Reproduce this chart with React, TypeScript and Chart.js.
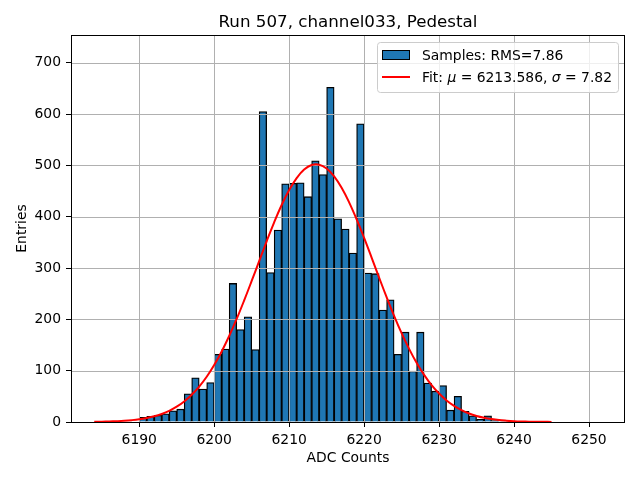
import { useEffect, useRef } from "react";
import { Chart, registerables } from "chart.js";

Chart.register(...registerables);

const FONT = "'DejaVu Sans', sans-serif";

const chartTitle = "Run 507, channel033, Pedestal";
const xLabel = "ADC Counts";
const yLabel = "Entries";

// histogram bins (left edge, width 1 ADC count)
const binStarts = [
  6190, 6191, 6192, 6193, 6194, 6195, 6196, 6197, 6198, 6199,
  6200, 6201, 6202, 6203, 6204, 6205, 6206, 6207, 6208, 6209,
  6210, 6211, 6212, 6213, 6214, 6215, 6216, 6217, 6218, 6219,
  6220, 6221, 6222, 6223, 6224, 6225, 6226, 6227, 6228, 6229,
  6230, 6231, 6232, 6233, 6234, 6235, 6236, 6237, 6238, 6239,
];
const counts = [
  9, 11, 13, 16, 22, 25, 55, 86, 64, 77,
  132, 142, 270, 180, 205, 141, 605, 291, 374, 464,
  465, 466, 439, 509, 482, 652, 396, 376, 329, 581,
  290, 289, 218, 238, 132, 175, 99, 175, 76, 60,
  71, 23, 50, 21, 12, 5, 12, 3, 1, 1,
];

// fit curve
const fitX = [
  6184, 6185, 6186, 6187, 6188, 6189, 6190, 6191, 6192, 6193,
  6194, 6195, 6196, 6197, 6198, 6199, 6200, 6201, 6202, 6203,
  6204, 6205, 6206, 6207, 6208, 6209, 6210, 6211, 6212, 6213,
  6214, 6215, 6216, 6217, 6218, 6219, 6220, 6221, 6222, 6223,
  6224, 6225, 6226, 6227, 6228, 6229, 6230, 6231, 6232, 6233,
  6234, 6235, 6236, 6237, 6238, 6239, 6240, 6241, 6242, 6243,
  6244, 6245,
];
const fitY = [
  0.4, 0.6, 1.0, 1.6, 2.4, 3.6, 5.3, 7.8, 11.1, 15.7,
  21.8, 29.8, 40.0, 53.0, 68.9, 88.1, 111, 137.5, 167.5, 200.8,
  236.9, 274.8, 313.5, 352.1, 389, 422.7, 451.9, 475.3, 491.8, 500.6,
  501.3, 493.9, 478.6, 456.4, 428, 395, 358.6, 320.3, 281.4, 243.2,
  206.8, 173, 142.4, 115.3, 91.8, 71.9, 55.5, 42.0, 31.4, 23.0,
  16.6, 11.8, 8.3, 5.7, 3.8, 2.6, 1.7, 1.1, 0.7, 0.4,
  0.3, 0.2,
];

const xTicks = [6190, 6200, 6210, 6220, 6230, 6240, 6250];
const yTicks = [0, 100, 200, 300, 400, 500, 600, 700];

const sampleLabel = "Samples: RMS=7.86";
const fitLabelParts: [string, boolean][] = [
  ["Fit: ", false],
  ["\u03bc", true],
  [" = 6213.586, ", false],
  ["\u03c3", true],
  [" = 7.82", false],
];

const decor = {
  id: "decor",
  afterDatasetDraw(chart: any, args: any) {
    if (args.index !== 0) return;
    const { ctx, chartArea: a, scales } = chart;
    ctx.save();
    ctx.strokeStyle = "#b0b0b0";
    ctx.lineWidth = 1;
    ctx.beginPath();
    xTicks.forEach((v) => {
      const px = Math.round(scales.x.getPixelForValue(v)) + 0.5;
      ctx.moveTo(px, a.top);
      ctx.lineTo(px, a.bottom);
    });
    yTicks.forEach((v) => {
      const py = Math.round(scales.y.getPixelForValue(v)) + 0.5;
      ctx.moveTo(a.left, py);
      ctx.lineTo(a.right, py);
    });
    ctx.stroke();
    ctx.restore();
  },
  afterDraw(chart: any) {
    const { ctx, chartArea: a } = chart;
    ctx.save();
    // frame
    ctx.strokeStyle = "#000";
    ctx.lineWidth = 1;
    ctx.strokeRect(Math.round(a.left) + 0.5, Math.round(a.top) + 0.5, Math.round(a.right - a.left) - 1, Math.round(a.bottom - a.top));

    // title and axis labels
    ctx.fillStyle = "#000";
    ctx.textAlign = "center";
    ctx.textBaseline = "alphabetic";
    ctx.font = `16.7px ${FONT}`;
    ctx.fillText(chartTitle, (a.left + a.right) / 2, 27);
    ctx.font = `13.9px ${FONT}`;
    ctx.fillText(xLabel, (a.left + a.right) / 2, 462);
    ctx.save();
    ctx.translate(22, (a.top + a.bottom) / 2);
    ctx.rotate(-Math.PI / 2);
    ctx.textBaseline = "middle";
    ctx.fillText(yLabel, 0, 0);
    ctx.restore();

    // legend
    ctx.fillStyle = "rgba(255,255,255,0.8)";
    ctx.strokeStyle = "#cccccc";
    ctx.beginPath();
    ctx.roundRect(377.5, 42.5, 241, 50, 3);
    ctx.fill();
    ctx.stroke();

    ctx.fillStyle = "#1f77b4";
    ctx.fillRect(382, 50, 28, 10);
    ctx.strokeStyle = "#000";
    ctx.strokeRect(382.5, 50.5, 27, 9);

    ctx.strokeStyle = "#ff0000";
    ctx.lineWidth = 2;
    ctx.beginPath();
    ctx.moveTo(382, 77);
    ctx.lineTo(410, 77);
    ctx.stroke();

    ctx.fillStyle = "#000";
    ctx.textAlign = "left";
    ctx.textBaseline = "alphabetic";
    ctx.font = `13.9px ${FONT}`;
    ctx.fillText(sampleLabel, 422, 60);
    let tx = 422;
    fitLabelParts.forEach(([s, it]) => {
      ctx.font = `${it ? "italic " : ""}13.9px ${FONT}`;
      ctx.fillText(s, tx, 82);
      tx += ctx.measureText(s).width;
    });
    ctx.restore();
  },
};

const App = () => {
  const canvasRef = useRef<HTMLCanvasElement | null>(null);
  const chartRef = useRef<Chart | null>(null);

  useEffect(() => {
    if (!canvasRef.current) return;
    const ctx = canvasRef.current.getContext("2d");
    if (!ctx) return;
    if (chartRef.current) chartRef.current.destroy();

    const tickFont = { family: FONT, size: 13.9 };

    chartRef.current = new Chart(ctx, {
      type: "bar",
      data: {
        datasets: [
          {
            type: "bar",
            data: binStarts.map((b, i) => ({ x: b + 0.5, y: counts[i] })),
            backgroundColor: "#1f77b4",
            borderColor: "#000000",
            borderWidth: 1.3,
            barPercentage: 1,
            categoryPercentage: 1,
            order: 2,
          },
          {
            type: "line",
            data: fitX.map((x, i) => ({ x, y: fitY[i] })),
            borderColor: "#ff0000",
            borderWidth: 2,
            pointRadius: 0,
            tension: 0.4,
            fill: false,
            order: 1,
          },
        ],
      } as any,
      options: {
        responsive: false,
        animation: false,
        layout: { padding: { left: 0, top: 35, right: 15, bottom: 0 } },
        plugins: {
          legend: { display: false },
          tooltip: { enabled: false },
          title: { display: false },
        },
        scales: {
          x: {
            type: "linear",
            min: 6180.9,
            max: 6254.8,
            offset: false,
            grid: { offset: false, drawOnChartArea: false, tickLength: 5, tickColor: "#000", lineWidth: 1 },
            border: { display: false },
            ticks: { color: "#000", font: tickFont, padding: 5, maxRotation: 0, callback: (v: any) => String(v) },
            afterBuildTicks: (scale: any) => {
              scale.ticks = xTicks.map((v) => ({ value: v }));
            },
            afterFit: (scale: any) => {
              scale.height = 58;
            },
          },
          y: {
            type: "linear",
            min: 0,
            max: 754,
            grid: { drawOnChartArea: false, tickLength: 5, tickColor: "#000", lineWidth: 1 },
            border: { display: false },
            ticks: { color: "#000", font: tickFont, padding: 5, callback: (v: any) => String(v) },
            afterBuildTicks: (scale: any) => {
              scale.ticks = yTicks.map((v) => ({ value: v }));
            },
            afterFit: (scale: any) => {
              scale.width = 71;
            },
          },
        },
      } as any,
      plugins: [decor],
    });

    return () => {
      if (chartRef.current) {
        chartRef.current.destroy();
        chartRef.current = null;
      }
    };
  }, []);

  return (
    <div style={{ position: "fixed", left: 0, top: 0, width: 640, height: 480, background: "#fff" }}>
      <canvas ref={canvasRef} width={640} height={480} style={{ display: "block", width: 640, height: 480 }} />
    </div>
  );
};

export default App;
